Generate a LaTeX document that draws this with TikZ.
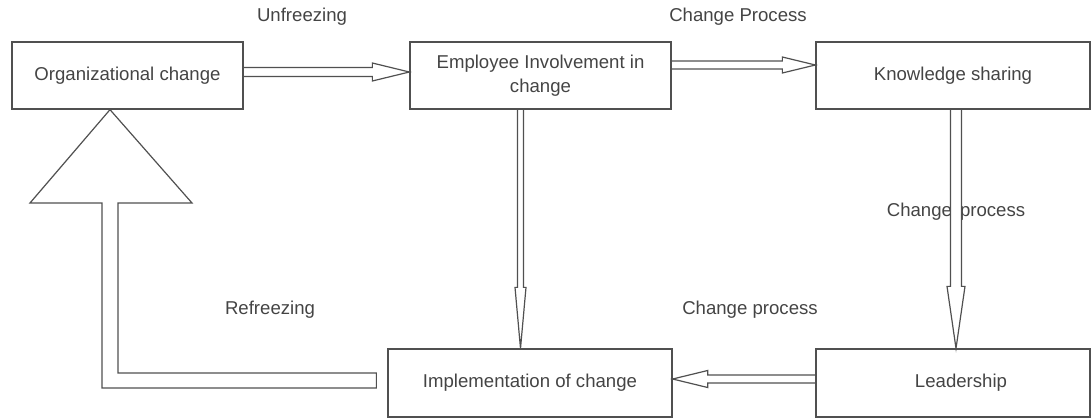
\documentclass[tikz,border=0pt]{standalone}
\usepackage{fontspec}
\setmainfont{Liberation Sans}
\usetikzlibrary{calc}
\definecolor{ink}{HTML}{444444}
\definecolor{edge}{HTML}{505050}
\begin{document}
\begin{tikzpicture}[x=1pt,y=-1pt,
  box/.style={draw=edge,line width=1.3pt,rectangle,inner sep=0pt,align=center,text=ink,font=\fontsize{18.6}{23.5}\selectfont},
  lbl/.style={text=ink,inner sep=0pt,font=\fontsize{18.6}{23.5}\selectfont},
  harrow/.style={draw=edge,line width=1.2pt,line join=miter}]
\useasboundingbox (0,0) rectangle (1092,418);
\node[box,minimum width=231pt,minimum height=67pt] (b1) at (127.5,75.5) {Organizational change};
\node[box,minimum width=261pt,minimum height=67pt] (b2) at (540.5,75.5) {Employee Involvement in\\change};
\node[box,minimum width=274pt,minimum height=67pt] (b3) at (953,75.5) {Knowledge sharing};
\node[box,minimum width=274pt,minimum height=68pt] (b4) at (953,383) {\hspace{16pt}Leadership};
\node[box,minimum width=284pt,minimum height=68pt] (b5) at (530,383) {Implementation of change};

\node[lbl] (l1) at (302,17) {Unfreezing};
\node[lbl] (l2) at (738,17) {Change Process};
\node[lbl] (l3) at (956,212) {Change\hspace{8pt}process};
\node[lbl] (l4) at (750,310) {Change process};
\node[lbl] (l5) at (270,310) {Refreezing};

% b1 -> b2
\coordinate (s1) at ($(b1.east)+(0,-3.5)$);
\coordinate (t1) at ($(b2.west)+(0,-3.5)$);
\draw[harrow] ($(s1)+(0,-4.5)$) -- ($(t1)+(-37,-4.5)$) -- ($(t1)+(-37,-9)$) -- (t1)
  -- ($(t1)+(-37,9)$) -- ($(t1)+(-37,4.5)$) -- ($(s1)+(0,4.5)$);
% b2 -> b3
\coordinate (s2) at ($(b2.east)+(0,-10.5)$);
\coordinate (t2) at ($(b3.west)+(0,-10.5)$);
\draw[harrow] ($(s2)+(0,-4)$) -- ($(t2)+(-33,-4)$) -- ($(t2)+(-33,-8)$) -- (t2)
  -- ($(t2)+(-33,8)$) -- ($(t2)+(-33,4)$) -- ($(s2)+(0,4)$);
% b2 -> b5
\coordinate (s3) at (b2.south -| 520.5,0);
\coordinate (t3) at (b5.north -| 520.5,0);
\draw[harrow] ($(s3)+(-3,0)$) -- ($(t3)+(-3,-61)$) -- ($(t3)+(-5.5,-61)$) -- (t3)
  -- ($(t3)+(5.5,-61)$) -- ($(t3)+(3,-61)$) -- ($(s3)+(3,0)$);
% b3 -> b4
\coordinate (s4) at (b3.south -| 956,0);
\coordinate (t4) at (b4.north -| 956,0);
\draw[harrow] ($(s4)+(-5.5,0)$) -- ($(t4)+(-5.5,-62)$) -- ($(t4)+(-9,-62)$) -- (t4)
  -- ($(t4)+(9,-62)$) -- ($(t4)+(5.5,-62)$) -- ($(s4)+(5.5,0)$);
% b4 -> b5
\coordinate (s5) at ($(b4.west)+(0,-4)$);
\coordinate (t5) at ($(b5.east)+(0,-4)$);
\draw[harrow] ($(s5)+(0,-4)$) -- ($(t5)+(35,-4)$) -- ($(t5)+(35,-8.5)$) -- (t5)
  -- ($(t5)+(35,8.5)$) -- ($(t5)+(35,4)$) -- ($(s5)+(0,4)$);
% refreezing b5 -> b1
\coordinate (s6) at ($(b5.west)+(-11,0)$);
\coordinate (t6) at (b1.south -| 110,0);
\draw[harrow] ($(s6)+(0,-10)$) -- (118,373) -- (118,203) -- (192,203) -- (t6)
  -- (30,203) -- (102,203) -- (102,388) -- ($(s6)+(0,5)$) -- cycle;
\end{tikzpicture}
\end{document}
